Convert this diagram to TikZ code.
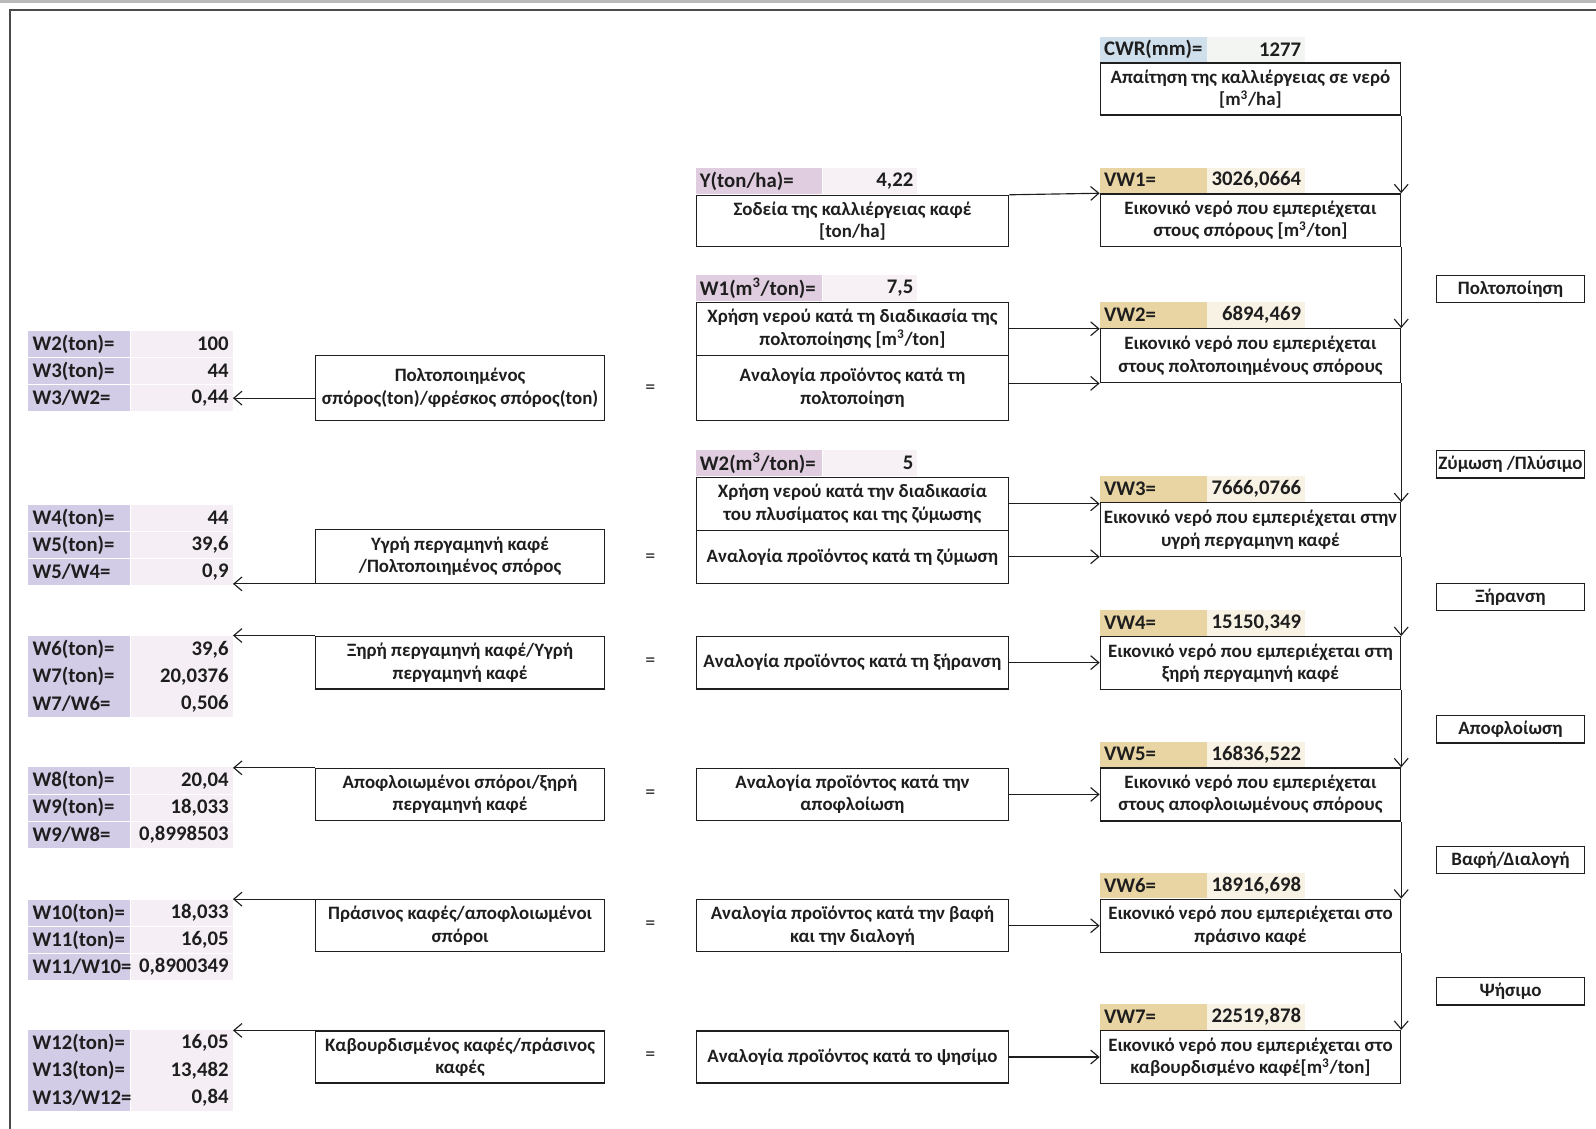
\documentclass[tikz,border=0pt]{standalone}
\usepackage{fontspec}
\setmainfont{Carlito}
\usetikzlibrary{arrows.meta, positioning}

\definecolor{ink}{HTML}{1E1E1E}
\definecolor{wname}{HTML}{D3CCE6}
\definecolor{wvalue}{HTML}{F5EFF5}
\definecolor{vwname}{HTML}{E8D5A3}
\definecolor{vwvalue}{HTML}{F8F2E4}
\definecolor{cwrname}{HTML}{CFDFEC}
\definecolor{cwrvalue}{HTML}{F2F5F2}
\definecolor{midname}{HTML}{E0CDDF}
\definecolor{midvalue}{HTML}{F7F0F4}

\newcommand{\pxu}{0.025cm}

\tikzset{
  calcbox/.style={draw=ink, line width=0.9pt, align=center, inner sep=0pt},
  vwbox/.style={calcbox, minimum width=295*\pxu, minimum height=52*\pxu},
  midbox/.style={calcbox, minimum width=307*\pxu, minimum height=52*\pxu},
  ratiobox/.style={calcbox, minimum width=284*\pxu, minimum height=53*\pxu},
  stagebox/.style={calcbox, minimum width=146*\pxu, minimum height=27*\pxu},
  tagfont/.style={font=\bfseries\fontsize{14.5}{16}\selectfont},
  vwtag/.style={tagfont, fill=#1, inner ysep=0pt, inner xsep=0.1cm, text width=2.425cm, minimum height=0.625cm, align=left},
  vwval/.style={tagfont, fill=#1, inner ysep=0pt, inner xsep=0.1cm, text width=2.2cm, minimum height=0.625cm, align=right},
  midtag/.style={tagfont, fill=midname, inner ysep=0pt, inner xsep=0.1cm, text width=2.9cm, minimum height=0.65cm, align=left},
  midval/.style={tagfont, fill=midvalue, inner ysep=0pt, inner xsep=0.1cm, text width=2.125cm, minimum height=0.65cm, align=right},
  wtag/.style={tagfont, fill=wname, inner ysep=0pt, inner xsep=0.1cm, text width=2.3cm, minimum height=0.65cm, align=left},
  wval/.style={tagfont, fill=wvalue, inner ysep=0pt, inner xsep=0.1cm, text width=2.3cm, minimum height=0.65cm, align=right},
  flow/.style={draw=ink, line width=0.8pt, -{Straight Barb[length=2mm, width=3.4mm]}},
  equals/.style={font=\fontsize{14}{16}\selectfont},
}

\begin{document}
\begin{tikzpicture}[x=\pxu, y=-\pxu, every node/.style={font=\bfseries\fontsize{13.2}{15.6}\selectfont, text=ink}]
\useasboundingbox (0,0) rectangle (1568,1109);

% page frame
\draw[gray!55, line width=2.2pt] (0,1.5) -- (1568,1.5);
\draw[ink!80, line width=1.2pt] (10,1109) -- (10,10) -- (1568,10);

% right column: water requirement and virtual water
\node[vwbox, minimum height=51*\pxu] (cwr) at (1228.5,87.5) {Απαίτηση της καλλιέργειας σε νερό\\{}[m\textsuperscript{3}/ha]};
\node[vwbox] (vw1) at (1228.5,216.5) {Εικονικό νερό που εμπεριέχεται\\στους σπόρους [m\textsuperscript{3}/ton]};
\node[vwbox, minimum height=53*\pxu] (vw2) at (1228.5,349.5) {Εικονικό νερό που εμπεριέχεται\\στους πολτοποιημένους σπόρους};
\node[vwbox, minimum height=53*\pxu] (vw3) at (1228.5,520.5) {Εικονικό νερό που εμπεριέχεται στην\\υγρή περγαμηνη καφέ};
\node[vwbox] (vw4) at (1228.5,651.5) {Εικονικό νερό που εμπεριέχεται στη\\ξηρή περγαμηνή καφέ};
\node[vwbox] (vw5) at (1228.5,780.5) {Εικονικό νερό που εμπεριέχεται\\στους αποφλοιωμένους σπόρους};
\node[vwbox] (vw6) at (1228.5,909.5) {Εικονικό νερό που εμπεριέχεται στο\\πράσινο καφέ};
\node[vwbox] (vw7) at (1228.5,1038.5) {Εικονικό νερό που εμπεριέχεται στο\\καβουρδισμένο καφέ[m\textsuperscript{3}/ton]};

\node[vwtag=cwrname, anchor=south west] (cwrtag) at (cwr.north west) {CWR(mm)=};
\node[vwval=cwrvalue, right=0pt of cwrtag] (cwrval) {1277};
\node[vwtag=vwname, anchor=south west] (vw1tag) at (vw1.north west) {VW1=};
\node[vwval=vwvalue, right=0pt of vw1tag] (vw1val) {3026,0664};
\node[vwtag=vwname, anchor=south west] (vw2tag) at (vw2.north west) {VW2=};
\node[vwval=vwvalue, right=0pt of vw2tag] (vw2val) {6894,469};
\node[vwtag=vwname, anchor=south west] (vw3tag) at (vw3.north west) {VW3=};
\node[vwval=vwvalue, right=0pt of vw3tag] (vw3val) {7666,0766};
\node[vwtag=vwname, anchor=south west] (vw4tag) at (vw4.north west) {VW4=};
\node[vwval=vwvalue, right=0pt of vw4tag] (vw4val) {15150,349};
\node[vwtag=vwname, anchor=south west] (vw5tag) at (vw5.north west) {VW5=};
\node[vwval=vwvalue, right=0pt of vw5tag] (vw5val) {16836,522};
\node[vwtag=vwname, anchor=south west] (vw6tag) at (vw6.north west) {VW6=};
\node[vwval=vwvalue, right=0pt of vw6tag] (vw6val) {18916,698};
\node[vwtag=vwname, anchor=south west] (vw7tag) at (vw7.north west) {VW7=};
\node[vwval=vwvalue, right=0pt of vw7tag] (vw7val) {22519,878};

% processing stages
\node[stagebox] (st1) at (1484,284) {Πολτοποίηση};
\node[stagebox] (st2) at (1484,456) {Ζύμωση /Πλύσιμο};
\node[stagebox] (st3) at (1484,586.5) {Ξήρανση};
\node[stagebox] (st4) at (1484,716.5) {Αποφλοίωση};
\node[stagebox] (st5) at (1484,845) {Βαφή/Διαλογή};
\node[stagebox] (st6) at (1484,974) {Ψήσιμο};

% middle column
\node[midbox, minimum height=50*\pxu] (yld) at (837.5,217) {Σοδεία της καλλιέργειας καφέ\\{}[ton/ha]};
\node[midbox] (use1) at (837.5,323) {Χρήση νερού κατά τη διαδικασία της\\πολτοποίησης [m\textsuperscript{3}/ton]};
\node[midbox, minimum height=64*\pxu] (prop1) at (837.5,381) {Αναλογία προϊόντος κατά τη\\πολτοποίηση};
\node[midbox] (use2) at (837.5,495) {Χρήση νερού κατά την διαδικασία\\του πλυσίματος και της ζύμωσης};
\node[midbox] (prop2) at (837.5,547) {Αναλογία προϊόντος κατά τη ζύμωση};
\node[midbox] (prop3) at (837.5,651) {Αναλογία προϊόντος κατά τη ξήρανση};
\node[midbox, minimum height=51*\pxu] (prop4) at (837.5,780.5) {Αναλογία προϊόντος κατά την\\αποφλοίωση};
\node[midbox, minimum height=51*\pxu] (prop5) at (837.5,909.5) {Αναλογία προϊόντος κατά την βαφή\\και την διαλογή};
\node[midbox, minimum height=51*\pxu] (prop6) at (837.5,1038.5) {Αναλογία προϊόντος κατά το ψησίμο};

\node[midtag, anchor=south west] (yldtag) at (yld.north west) {Y(ton/ha)=};
\node[midval, right=0pt of yldtag] (yldval) {4,22};
\node[midtag, anchor=south west] (use1tag) at (use1.north west) {W1(m\textsuperscript{3}/ton)=};
\node[midval, right=0pt of use1tag] (use1val) {7,5};
\node[midtag, anchor=south west] (use2tag) at (use2.north west) {W2(m\textsuperscript{3}/ton)=};
\node[midval, right=0pt of use2tag] (use2val) {5};

% left column: product ratios
\node[ratiobox, minimum height=64*\pxu] (ratio1) at (452,381) {Πολτοποιημένος\\σπόρος(ton)/φρέσκος σπόρος(ton)};
\node[ratiobox] (ratio2) at (452,546.5) {Υγρή περγαμηνή καφέ\\/Πολτοποιημένος σπόρος};
\node[ratiobox, minimum height=52*\pxu] (ratio3) at (452,651) {Ξηρή περγαμηνή καφέ/Υγρή\\περγαμηνή καφέ};
\node[ratiobox, minimum height=51*\pxu] (ratio4) at (452,780.5) {Αποφλοιωμένοι σπόροι/ξηρή\\περγαμηνή καφέ};
\node[ratiobox, minimum height=51*\pxu] (ratio5) at (452,909.5) {Πράσινος καφές/αποφλοιωμένοι\\σπόροι};
\node[ratiobox, minimum height=51*\pxu] (ratio6) at (452,1038.5) {Καβουρδισμένος καφές/πράσινος\\καφές};

\node[equals] (eq1) at (639,382) {=};
\node[equals] (eq2) at (639,548) {=};
\node[equals] (eq3) at (639,651) {=};
\node[equals] (eq4) at (639,780) {=};
\node[equals] (eq5) at (639,909) {=};
\node[equals] (eq6) at (639,1038) {=};

\node[wtag] (w2n) at (78,338) {W2(ton)=};
\node[wval, right=0pt of w2n] (w2v) {100};
\node[wtag, below=0pt of w2n] (w3n) {W3(ton)=};
\node[wval, right=0pt of w3n] (w3v) {44};
\node[wtag, below=0pt of w3n] (w3w2n) {W3/W2=};
\node[wval, right=0pt of w3w2n] (w3w2v) {0,44};

\node[wtag] (w4n) at (78,509) {W4(ton)=};
\node[wval, right=0pt of w4n] (w4v) {44};
\node[wtag, below=0pt of w4n] (w5n) {W5(ton)=};
\node[wval, right=0pt of w5n] (w5v) {39,6};
\node[wtag, below=0pt of w5n] (w5w4n) {W5/W4=};
\node[wval, right=0pt of w5w4n] (w5w4v) {0,9};

\node[wtag] (w6n) at (78,638) {W6(ton)=};
\node[wval, right=0pt of w6n] (w6v) {39,6};
\node[wtag, below=0pt of w6n] (w7n) {W7(ton)=};
\node[wval, right=0pt of w7n] (w7v) {20,0376};
\node[wtag, below=0pt of w7n] (w7w6n) {W7/W6=};
\node[wval, right=0pt of w7w6n] (w7w6v) {0,506};

\node[wtag] (w8n) at (78,767) {W8(ton)=};
\node[wval, right=0pt of w8n] (w8v) {20,04};
\node[wtag, below=0pt of w8n] (w9n) {W9(ton)=};
\node[wval, right=0pt of w9n] (w9v) {18,033};
\node[wtag, below=0pt of w9n] (w9w8n) {W9/W8=};
\node[wval, right=0pt of w9w8n] (w9w8v) {0,8998503};

\node[wtag] (w10n) at (78,897) {W10(ton)=};
\node[wval, right=0pt of w10n] (w10v) {18,033};
\node[wtag, below=0pt of w10n] (w11n) {W11(ton)=};
\node[wval, right=0pt of w11n] (w11v) {16,05};
\node[wtag, below=0pt of w11n] (w11w10n) {W11/W10=};
\node[wval, right=0pt of w11w10n] (w11w10v) {0,8900349};

\node[wtag] (w12n) at (78,1025) {W12(ton)=};
\node[wval, right=0pt of w12n] (w12v) {16,05};
\node[wtag, below=0pt of w12n] (w13n) {W13(ton)=};
\node[wval, right=0pt of w13n] (w13v) {13,482};
\node[wtag, below=0pt of w13n] (w13w12n) {W13/W12=};
\node[wval, right=0pt of w13w12n] (w13w12v) {0,84};

% connectors
\draw[flow] (cwr.south east) -- (vw1.north east);
\draw[flow] (vw1.south east) -- (vw2.north east);
\draw[flow] (vw2.south east) -- (vw3.north east);
\draw[flow] (vw3.south east) -- (vw4.north east);
\draw[flow] (vw4.south east) -- (vw5.north east);
\draw[flow] (vw5.south east) -- (vw6.north east);
\draw[flow] (vw6.south east) -- (vw7.north east);

\draw[flow] (yld.north east) -- (vw1.north west);
\draw[flow] (use1.east) -- (use1.east -| vw2.west);
\draw[flow] (prop1.east |- vw2.south west) -- (vw2.south west);
\draw[flow] (use2.east) -- (use2.east -| vw3.west);
\draw[flow] (prop2.east) -- (prop2.east -| vw3.west);
\draw[flow] (prop3.east) -- (prop3.east -| vw4.west);
\draw[flow] (prop4.east) -- (prop4.east -| vw5.west);
\draw[flow] (prop5.east) -- (prop5.east -| vw6.west);
\draw[flow] (prop6.east) -- (prop6.east -| vw7.west);

\draw[flow] (ratio1.west |- w3w2v.east) -- (w3w2v.east);
\draw[flow] (ratio2.south west) -- (ratio2.south west -| w5w4v.east);
\draw[flow] (ratio3.north west) -- (ratio3.north west -| w7w6v.east);
\draw[flow] (ratio4.north west) -- (ratio4.north west -| w9w8v.east);
\draw[flow] (ratio5.north west) -- (ratio5.north west -| w11w10v.east);
\draw[flow] (ratio6.north west) -- (ratio6.north west -| w13w12v.east);
\end{tikzpicture}
\end{document}
